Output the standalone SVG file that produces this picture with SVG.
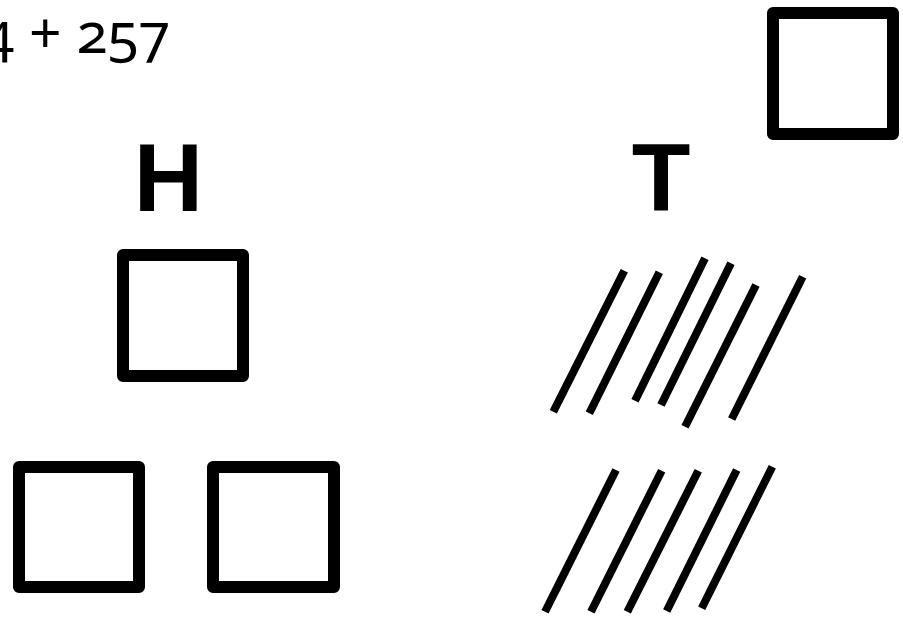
<svg xmlns="http://www.w3.org/2000/svg" width="903" height="620" viewBox="0 0 903 620">
<style>
.box{fill:#fff;stroke:#000;stroke-width:12;stroke-linejoin:round}
.tally{stroke:#000;stroke-width:8;stroke-linecap:butt}
.big{font-family:"Liberation Sans",Arial,sans-serif;font-weight:bold;font-size:96px;fill:#000;text-anchor:middle}
.eq{font-family:"Noto Sans","Lato",sans-serif;font-size:57px;fill:#000;font-variant-numeric:oldstyle-nums;font-feature-settings:"onum" 1}
</style>
<rect width="903" height="620" fill="#fff"/>
<g id="equation"><text class="eq" x="-17" y="53">4 + 257</text></g>
<g id="label-H"><text class="big" x="168.5" y="211">H</text></g>
<g id="label-T"><text class="big" x="661" y="211">T</text></g>
<g id="hundred-1"><rect class="box" x="123" y="255" width="120" height="121"/></g>
<g id="hundred-2"><rect class="box" x="19" y="467" width="120" height="120"/></g>
<g id="hundred-3"><rect class="box" x="213" y="467" width="121" height="120"/></g>
<g id="hundred-4"><rect class="box" x="773" y="13" width="120" height="121"/></g>
<g id="tallies">
<line class="tally" x1="624.3" y1="270.7" x2="553.3" y2="411.7"/>
<line class="tally" x1="659.3" y1="272.3" x2="589.3" y2="413.3"/>
<line class="tally" x1="705" y1="258.3" x2="635" y2="400.7"/>
<line class="tally" x1="731" y1="263.3" x2="661" y2="405"/>
<line class="tally" x1="756" y1="285" x2="685" y2="426.7"/>
<line class="tally" x1="802.7" y1="276.7" x2="731.7" y2="419"/>
<line class="tally" x1="616" y1="470" x2="545" y2="611.7"/>
<line class="tally" x1="661.7" y1="470.7" x2="591" y2="611.7"/>
<line class="tally" x1="698.3" y1="470.7" x2="627.3" y2="611.7"/>
<line class="tally" x1="736.7" y1="470" x2="666.7" y2="611"/>
<line class="tally" x1="772.3" y1="466.7" x2="701.7" y2="608.3"/>
</g>
</svg>
